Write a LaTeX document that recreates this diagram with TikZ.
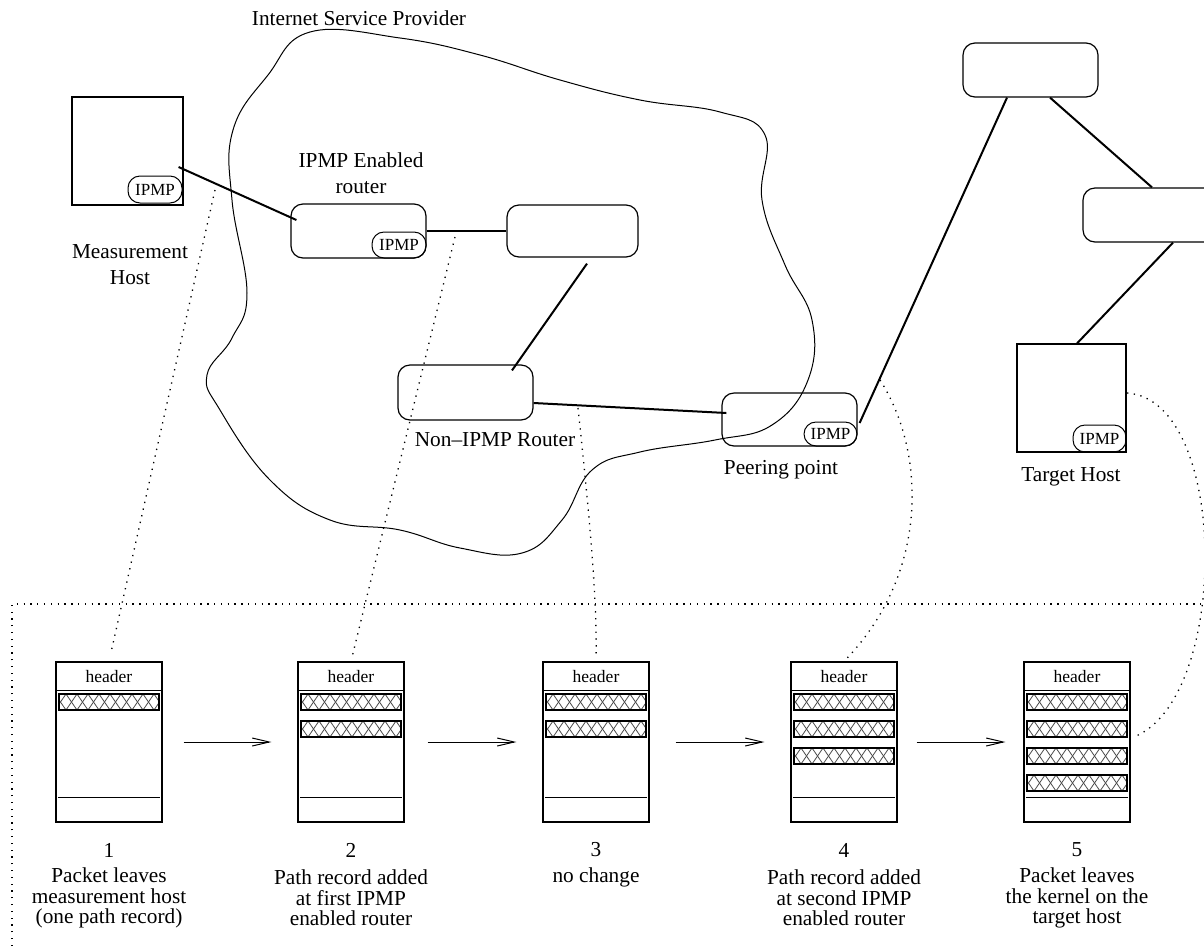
\documentclass[tikz,border=0pt]{standalone}
\usepackage{fontspec}
\setmainfont{Liberation Serif}
\usetikzlibrary{arrows.meta,calc}
\tikzset{
  box/.style={draw, line width=1.2pt, inner sep=0pt},
  rbox/.style={box, rounded corners=12pt},
  pill/.style={draw, line width=1pt, rounded corners=12pt, inner sep=0pt, font=\fontsize{17}{18}\selectfont},
  link/.style={line width=2pt},
  dotlink/.style={line width=1.3pt, dash pattern=on 1.3pt off 5.5pt},
  lbl/.style={font=\fontsize{21.3}{26}\selectfont, align=center, inner sep=0pt},
  lbls/.style={font=\fontsize{21.3}{20.5}\selectfont, align=center, inner sep=0pt},
  hdr/.style={font=\fontsize{17.5}{20}\selectfont, inner sep=0pt},
  flow/.style={line width=1pt, -{Straight Barb[length=17pt,width=8pt]}},
  hatch/.style={line width=0.8pt, black!70},
}
\begin{document}
\begin{tikzpicture}[x=1pt,y=-1pt]
\useasboundingbox (0,0) rectangle (1204,946);
\clip (0,0) rectangle (1204,946);

% cloud
\draw[line width=1pt] plot[smooth cycle, tension=0.7] coordinates {
 (310,32) (400,38) (480,55) (560,80) (640,100) (720,112) (765,135)
 (762,200) (785,265) (812,320) (808,380) (772,425) (715,440) (640,452)
 (592,470) (562,520) (522,553) (460,548) (400,530) (330,520) (270,480)
 (220,410) (207,375) (232,338) (247,293) (232,200) (233,130) (268,75)};
\node[lbl] (isp) at (359,18) {Internet Service Provider};

% hosts and routers
\node[box, minimum width=111pt, minimum height=108pt] (mh) at (127.5,151) {};
\node[pill, minimum width=54pt, minimum height=27pt] (mhp) at (155,189.5) {IPMP};
\node[lbl] (mhl) at (130,265) {Measurement\\Host};

\node[rbox, minimum width=135pt, minimum height=54pt] (r1) at (358.5,231) {};
\node[pill, minimum width=54pt, minimum height=26pt] (r1p) at (399,245) {IPMP};
\node[lbl] (r1l) at (361,173) {IPMP Enabled\\router};

\node[rbox, minimum width=131pt, minimum height=52pt] (r2) at (572.5,231) {};

\node[rbox, minimum width=135pt, minimum height=55pt] (nr) at (465.5,392.5) {};
\node[lbl] (nrl) at (495,440) {Non–IPMP Router};

\node[rbox, minimum width=135pt, minimum height=53pt] (pp) at (789.5,419.5) {};
\node[pill, minimum width=53pt, minimum height=24pt] (ppp) at (830.5,434) {IPMP};
\node[lbl] (ppl) at (781,470) {Peering point};

\node[rbox, minimum width=135pt, minimum height=54pt] (tr) at (1030.5,70) {};
\node[rbox, minimum width=135pt, minimum height=54pt] (rr) at (1150.5,215) {};

\node[box, minimum width=109pt, minimum height=108pt] (th) at (1071.5,398) {};
\node[pill, minimum width=53pt, minimum height=27pt] (thp) at (1099.5,438.5) {IPMP};
\node[lbl] (thl) at (1071,477) {Target Host};

% solid links
\draw[link] ($(mh.east)+(-5,16)$) -- ($(r1.west)+(6,-11)$);
\draw[link] (r1.east) -- (r2.west);
\draw[link] ($(r2.south)+(14.5,6)$) -- ($(nr.north)+(46.5,6)$);
\draw[link] ($(nr.east)+(0,10.5)$) -- ($(pp.west)+(5,-6.5)$);
\draw[link] ($(pp.east)+(2,3.5)$) -- ($(tr.south)+(-23.5,0)$);
\draw[link] ($(tr.south)+(19.5,0)$) -- ($(rr.north)+(1.5,0)$);
\draw[link] ($(rr.south)+(22.5,0)$) -- ($(th.north)+(5.5,0)$);

% dotted frame
\draw[dotlink] (12,946) -- (12,604) -- (1204,604);

% packets
\foreach \i/\px/\n in {1/56/1, 2/298/2, 3/543/2, 4/791/3, 5/1024/4} {
  \node[box, minimum width=106pt, minimum height=160pt] (p\i) at (\px+53,742) {};
  \draw[line width=1pt] (\px,690) -- (\px+106,690);
  \draw[line width=1pt] (\px+2,797) -- (\px+104,797);
  \node[hdr] (h\i) at (\px+53,676) {header};
  \foreach \k in {1,...,\n} {
    \pgfmathsetmacro\yt{694+27*(\k-1)}
    \begin{scope}
      \clip (\px+3,\yt) rectangle (\px+103,\yt+16);
      \foreach \xx in {-12,-1,...,108} {
        \draw[hatch] (\px+\xx,\yt) -- (\px+\xx+11,\yt+16);
        \draw[hatch] (\px+\xx+11,\yt) -- (\px+\xx,\yt+16);
      }
    \end{scope}
    \draw[line width=1.2pt] (\px+3,\yt) rectangle (\px+103,\yt+16);
  }
  \node[lbls] (n\i) at (\px+53,850) {\i};
}

% flow arrows
\draw[flow, shorten <=21pt, shorten >=26pt] (p1.east) -- (p2.west);
\draw[flow, shorten <=23pt, shorten >=26pt] (p2.east) -- (p3.west);
\draw[flow, shorten <=26pt, shorten >=26pt] (p3.east) -- (p4.west);
\draw[flow, shorten <=19pt, shorten >=18pt] (p4.east) -- (p5.west);

% packet captions
\node[lbls] (t1) at (109,898) {Packet leaves\\measurement host\\(one path record)};
\node[lbls] (t2) at (351,898) {Path record added\\at first IPMP\\enabled router};
\node[lbls] (t3) at (596,877) {no change};
\node[lbls] (t4) at (844,898) {Path record added\\at second IPMP\\enabled router};
\node[lbls] (t5) at (1077,898) {Packet leaves\\the kernel on the\\target host};

% dotted correspondences
\coordinate (d1) at (215,190);
\coordinate (d2) at (455,237);
\coordinate (d3) at (578,408);
\coordinate (d4) at (880,380);
\coordinate (d5) at (1127,393);
\draw[dotlink, shorten >=8pt] (d1) -- (p1.north);
\draw[dotlink, shorten >=6pt] (d2) -- (p2.north);
\draw[dotlink, shorten >=5pt] (d3) .. controls (590,520) and (597,600) .. (p3.north);
\draw[dotlink, shorten >=5pt] (d4) .. controls (925,450) and (930,570) .. (p4.north);
\draw[dotlink] (d5) .. controls (1230,400) and (1230,700) .. ($(p5.east)+(3,-5)$);
\end{tikzpicture}
\end{document}
